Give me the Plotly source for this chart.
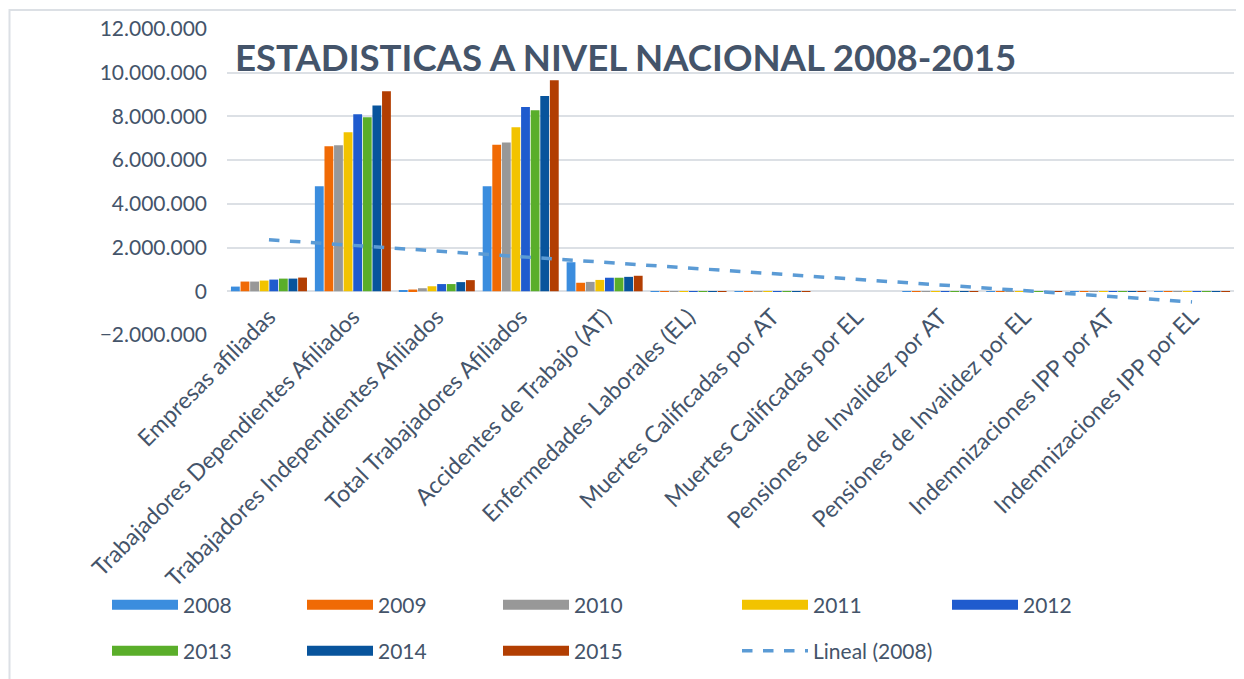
import numpy as np
import plotly.graph_objects as go

categories = [
    "Empresas afiliadas",
    "Trabajadores Dependientes Afiliados",
    "Trabajadores Independientes Afiliados",
    "Total Trabajadores Afiliados",
    "Accidentes de Trabajo (AT)",
    "Enfermedades Laborales (EL)",
    "Muertes Calificadas por AT",
    "Muertes Calificadas por EL",
    "Pensiones de Invalidez por AT",
    "Pensiones de Invalidez por EL",
    "Indemnizaciones IPP por AT",
    "Indemnizaciones IPP por EL",
]

years = ["2008", "2009", "2010", "2011", "2012", "2013", "2014", "2015"]

v2008 = [215000, 4810000, 50000, 4810000, 1330000, 6800, 700, 5, 300, 60, 5000, 1800]
v2009 = [445000, 6640000, 80000, 6700000, 390000, 6900, 730, 7, 320, 70, 5200, 1900]
v2010 = [445000, 6680000, 140000, 6810000, 430000, 9400, 700, 8, 330, 80, 5400, 2000]
v2011 = [490000, 7280000, 230000, 7500000, 520000, 8900, 690, 6, 340, 90, 5600, 2100]
v2012 = [535000, 8100000, 330000, 8430000, 620000, 9500, 680, 9, 350, 100, 5800, 2200]
v2013 = [580000, 7960000, 330000, 8280000, 620000, 10000, 700, 10, 360, 110, 6000, 2300]
v2014 = [580000, 8500000, 420000, 8940000, 660000, 9700, 650, 8, 370, 120, 6100, 2400]
v2015 = [627000, 9150000, 510000, 9660000, 710000, 9900, 560, 6, 380, 130, 6200, 2500]

series = [v2008, v2009, v2010, v2011, v2012, v2013, v2014, v2015]
colors = ["#3B8DDE", "#F06A05", "#989898", "#F2C300",
          "#1F5BCE", "#5AAE2A", "#08549C", "#B23E02"]
trend_name = "Lineal (2008)"

TEXT = "#44546A"
FONT = "Lato"

# page is rendered with an 8px body margin; work in figure pixels
OFF = 8
W, H = 1244 - OFF, 679 - OFF
L, R, T, B = 227 - OFF, 10, 29 - OFF, 344
pw = W - L - R
ph = H - T - B


def px_x(x):  # x in screenshot pixels -> paper fraction
    return (x - OFF - L) / pw


def px_y(y):  # y in screenshot pixels -> paper fraction
    return (H - B - (y - OFF)) / ph


fig = go.Figure()

for name, vals, col in zip(years, series, colors):
    fig.add_trace(go.Bar(
        x=categories, y=vals, name=name,
        marker=dict(color=col, line=dict(width=0)), showlegend=False,
    ))

# linear trendline of the 2008 series (Excel "Lineal (2008)")
xi = np.arange(1, len(categories) + 1)
slope, intercept = np.polyfit(xi, np.array(v2008, dtype=float), 1)
trend = slope * xi + intercept
fig.add_trace(go.Scatter(
    x=categories, y=trend, mode="lines", name=trend_name,
    line=dict(color="#5B9BD5", width=3.5, dash="dash"), showlegend=False,
))

# legend: one small legend per entry, placed on a 5-column grid like Excel
leg_left = [112, 307, 503, 742, 952, 112, 307, 503, 742]
leg_cy = [605, 605, 605, 605, 605, 651, 651, 651, 651]
legend_layout = {}
entries = list(zip(years, colors)) + [(trend_name, "#5B9BD5")]
for i, (name, col) in enumerate(entries):
    key = "legend" if i == 0 else f"legend{i + 1}"
    is_trend = name == trend_name
    fig.add_trace(go.Scatter(
        x=[None], y=[None], mode="lines", name=name, legend=key,
        line=dict(color=col, width=3.5 if is_trend else 10,
                  dash="dash" if is_trend else "solid"),
    ))
    legend_layout[key] = dict(
        orientation="h", x=px_x(leg_left[i] - 5), y=px_y(leg_cy[i]),
        xanchor="left", yanchor="middle", itemwidth=66,
        font=dict(family=FONT, size=21, color=TEXT), bgcolor="rgba(0,0,0,0)",
    )

fig.update_layout(
    width=W, height=H,
    margin=dict(l=L, r=R, t=T, b=B, autoexpand=False),
    paper_bgcolor="white", plot_bgcolor="white",
    separators=",.",
    barmode="group", bargap=0.085, bargroupgap=0.08,
    font=dict(family=FONT, size=21, color=TEXT),
    xaxis=dict(
        type="category", tickangle=-45, showgrid=False, showline=False,
        ticks="", anchor="free", position=px_y(291), automargin=False,
        ticklabelstandoff=7,
        tickfont=dict(family=FONT, size=23, color=TEXT),
    ),
    yaxis=dict(
        range=[-2000000, 12000000], dtick=2000000, tickformat=",d",
        showgrid=True, gridcolor="#DCE0E5", gridwidth=1.6,
        zeroline=False, showline=False, ticks="", automargin=False,
        ticklabelstandoff=19,
        tickfont=dict(family=FONT, size=21, color=TEXT),
    ),
    annotations=[dict(
        text="<b>ESTADISTICAS A NIVEL NACIONAL 2008-2015</b>",
        xref="paper", yref="paper", x=px_x(233), y=px_y(57),
        xanchor="left", yanchor="middle", showarrow=False,
        font=dict(family=FONT, size=36.6, color=TEXT),
    )],
    shapes=[dict(
        type="rect", xref="paper", yref="paper",
        x0=px_x(9.5), x1=px_x(1270), y0=px_y(10), y1=px_y(700),
        line=dict(color="#DCE0E5", width=2), fillcolor="rgba(0,0,0,0)", layer="above",
    )],
    **legend_layout,
)

fig.write_html("out.html")
